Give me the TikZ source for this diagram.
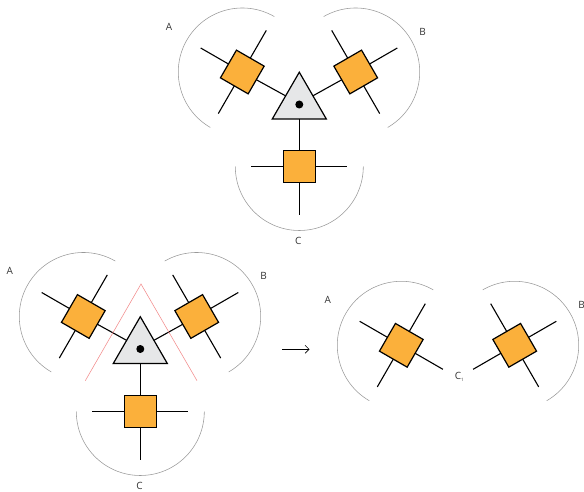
\documentclass[tikz,border=0pt]{standalone}
\usepackage{fontspec}
\setmainfont{Open Sans}
\usetikzlibrary{positioning, shapes.geometric, arrows.meta}
\definecolor{tensororange}{HTML}{FBB03B}
\definecolor{trianglegray}{HTML}{E6E7E8}
\definecolor{cutred}{HTML}{F28B8B}
\tikzset{
  tensor/.style={rectangle, draw=black, fill=tensororange, line width=1.2pt, minimum size=32pt, inner sep=0pt, outer sep=0pt},
  core/.style={regular polygon, regular polygon sides=3, draw=black, fill=trianglegray, line width=1.2pt, minimum size=62.4pt, inner sep=0pt, outer sep=0pt},
  dotnode/.style={circle, fill=black, minimum size=8pt, inner sep=0pt},
  leg/.style={line width=1.1pt},
  rim/.style={draw=black!40, line width=0.55pt},
  cut/.style={draw=cutred, line width=0.55pt},
  lab/.style={font=\fontsize{10}{11}\selectfont, text=black!80, inner sep=0pt}}
\begin{document}
\begin{tikzpicture}[x=1pt, y=1pt]
		\useasboundingbox (0,0) rectangle (584,491);
		
		% top network
		\node[core] (triT) at (299.3,387.6) {};
		\node[dotnode] (dotT) at (299.3,386.5) {};
		\node[tensor, rotate=-30] (sqTA) at (242.3,419) {};
		\node[tensor, rotate=30] (sqTB) at (355.7,419) {};
		\node[tensor] (sqTC) at (299.3,324.5) {};
		
		\coordinate[above left=24pt and 41.6pt of sqTA.center] (ta1);
		\coordinate[above right=41.6pt and 24pt of sqTA.center] (ta2);
		\coordinate[below left=41.6pt and 24pt of sqTA.center] (ta3);
		\coordinate[above right=24pt and 41.6pt of sqTB.center] (tb1);
		\coordinate[above left=41.6pt and 24pt of sqTB.center] (tb2);
		\coordinate[below right=41.6pt and 24pt of sqTB.center] (tb3);
		\coordinate[left=48pt of sqTC.center] (tc1);
		\coordinate[right=48pt of sqTC.center] (tc2);
		\coordinate[below=48pt of sqTC.center] (tc3);
		
		\draw[leg] (sqTA) -- (triT);
		\draw[leg] (sqTB) -- (triT);
		\draw[leg] (sqTC) -- (triT);
		\draw[leg] (sqTA) -- (ta1);
		\draw[leg] (sqTA) -- (ta2);
		\draw[leg] (sqTA) -- (ta3);
		\draw[leg] (sqTB) -- (tb1);
		\draw[leg] (sqTB) -- (tb2);
		\draw[leg] (sqTB) -- (tb3);
		\draw[leg] (sqTC) -- (tc1);
		\draw[leg] (sqTC) -- (tc2);
		\draw[leg] (sqTC) -- (tc3);
		
		\draw[rim] ([shift={(60:64pt)}]sqTA.center) arc[start angle=60, end angle=240, radius=64pt];
		\draw[rim] ([shift={(120:64pt)}]sqTB.center) arc[start angle=120, end angle=-60, radius=64pt];
		\draw[rim] ([shift={(180:64pt)}]sqTC.center) arc[start angle=180, end angle=360, radius=64pt];
		
		\node[lab] (labTA) at (169,464.5) {A};
		\node[lab] (labTB) at (422.5,459.5) {B};
		\node[lab] (labTC) at (298.3,250) {C};
		
		% bottom left network, cut by the red wedge
		\node[core] (triL) at (140.3,143.1) {};
		\node[dotnode] (dotL) at (140.3,142) {};
		\node[tensor, rotate=-30] (sqLA) at (83.3,174.5) {};
		\node[tensor, rotate=30] (sqLB) at (196.7,174.5) {};
		\node[tensor] (sqLC) at (140.3,79.5) {};
		
		\coordinate[above left=24pt and 41.6pt of sqLA.center] (la1);
		\coordinate[above right=41.6pt and 24pt of sqLA.center] (la2);
		\coordinate[below left=41.6pt and 24pt of sqLA.center] (la3);
		\coordinate[above right=24pt and 41.6pt of sqLB.center] (lb1);
		\coordinate[above left=41.6pt and 24pt of sqLB.center] (lb2);
		\coordinate[below right=41.6pt and 24pt of sqLB.center] (lb3);
		\coordinate[left=48pt of sqLC.center] (lc1);
		\coordinate[right=48pt of sqLC.center] (lc2);
		\coordinate[below=48pt of sqLC.center] (lc3);
		
		\draw[leg] (sqLA) -- (triL);
		\draw[leg] (sqLB) -- (triL);
		\draw[leg] (sqLC) -- (triL);
		\draw[leg] (sqLA) -- (la1);
		\draw[leg] (sqLA) -- (la2);
		\draw[leg] (sqLA) -- (la3);
		\draw[leg] (sqLB) -- (lb1);
		\draw[leg] (sqLB) -- (lb2);
		\draw[leg] (sqLB) -- (lb3);
		\draw[leg] (sqLC) -- (lc1);
		\draw[leg] (sqLC) -- (lc2);
		\draw[leg] (sqLC) -- (lc3);
		
		\draw[rim] ([shift={(60:64pt)}]sqLA.center) arc[start angle=60, end angle=240, radius=64pt];
		\draw[rim] ([shift={(120:64pt)}]sqLB.center) arc[start angle=120, end angle=-60, radius=64pt];
		\draw[rim] ([shift={(180:64pt)}]sqLC.center) arc[start angle=180, end angle=360, radius=64pt];
		
		\coordinate (cutTop) at (141,207);
		\coordinate (cutL) at (85.3,110.3);
		\coordinate (cutR) at (197,110.3);
		\draw[cut] (cutL) -- (cutTop) -- (cutR);
		
		\node[lab] (labLA) at (9.7,220.5) {A};
		\node[lab] (labLB) at (263.5,215) {B};
		\node[lab] (labLC) at (139.5,5.5) {C};
		
		% arrow to the result
		\coordinate (arrS) at (282,141.7);
		\coordinate (arrE) at (309.5,141.7);
		\draw[-{Straight Barb[length=4pt,width=8pt]}, line width=0.6pt] (arrS) -- (arrE);
		
		% bottom right network
		\node[tensor, rotate=-30] (sqRA) at (401.3,145.7) {};
		\node[tensor, rotate=30] (sqRB) at (514.7,145.7) {};
		
		\coordinate[above left=24pt and 41.6pt of sqRA.center] (ra1);
		\coordinate[above right=41.6pt and 24pt of sqRA.center] (ra2);
		\coordinate[below left=41.6pt and 24pt of sqRA.center] (ra3);
		\coordinate[below right=24pt and 41.6pt of sqRA.center] (ra4);
		\coordinate[above right=24pt and 41.6pt of sqRB.center] (rb1);
		\coordinate[above left=41.6pt and 24pt of sqRB.center] (rb2);
		\coordinate[below right=41.6pt and 24pt of sqRB.center] (rb3);
		\coordinate[below left=24pt and 41.6pt of sqRB.center] (rb4);
		
		\draw[leg] (sqRA) -- (ra1);
		\draw[leg] (sqRA) -- (ra2);
		\draw[leg] (sqRA) -- (ra3);
		\draw[leg] (sqRA) -- (ra4);
		\draw[leg] (sqRB) -- (rb1);
		\draw[leg] (sqRB) -- (rb2);
		\draw[leg] (sqRB) -- (rb3);
		\draw[leg] (sqRB) -- (rb4);
		
		\draw[rim] ([shift={(60:64pt)}]sqRA.center) arc[start angle=60, end angle=240, radius=64pt];
		\draw[rim] ([shift={(120:64pt)}]sqRB.center) arc[start angle=120, end angle=-60, radius=64pt];
		
		\node[lab] (labRA) at (327.7,191.5) {A};
		\node[lab] (labRB) at (581.7,186) {B};
		\node[lab] (labRC) at (459.5,114) {C\textsubscript{\fontsize{4.5}{5}\selectfont 1}};
		
	\end{tikzpicture}
\end{document}
